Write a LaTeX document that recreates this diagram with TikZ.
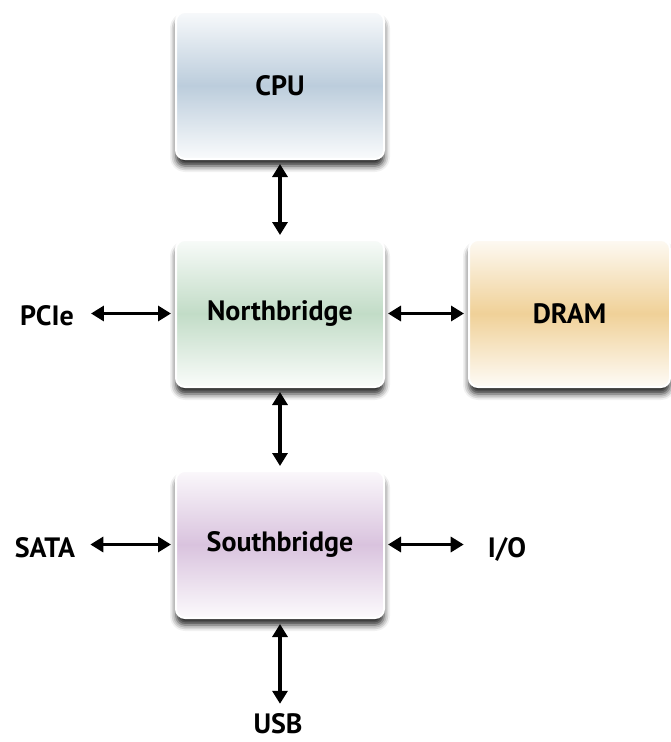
\documentclass[tikz,border=0pt]{standalone}
\usepackage{fontspec}
\setmainfont{PT Sans}
\usetikzlibrary{arrows.meta,shadows.blur}

\definecolor{cpuC}{RGB}{188,205,220}
\definecolor{nbC}{RGB}{194,220,199}
\definecolor{dramC}{RGB}{240,209,152}
\definecolor{sbC}{RGB}{217,195,222}

\tikzset{
  chip/.style={draw=white, line width=2pt, rounded corners=9pt,
    minimum width=208pt, minimum height=147pt, inner sep=0pt,
    font=\bfseries\fontsize{28}{33}\selectfont,
    blur shadow={shadow xshift=0pt, shadow yshift=-7pt,
      shadow blur radius=6pt, shadow opacity=85}},
  tint/.style={top color=#1!12!white, bottom color=#1!8!white, middle color=#1},
  port/.style={inner sep=0pt, font=\bfseries\fontsize{28}{33}\selectfont},
  link/.style={line width=3.2pt, {Triangle[length=13pt,width=15pt]}-{Triangle[length=13pt,width=15pt]}}
}

\begin{document}
\begin{tikzpicture}[x=1pt,y=-1pt]
  \useasboundingbox (0,0) rectangle (670,742);

  % chipset blocks
  \node[chip, tint=cpuC]  (cpu)  at (280,85.5)  {CPU};
  \node[chip, tint=nbC]   (nb)   at (280,313.5) {Northbridge};
  \node[chip, tint=dramC, minimum width=201pt] (dram) at (569.5,313.5) {DRAM};
  \node[chip, tint=sbC]   (sb)   at (280,544.5) {Southbridge};

  % external interfaces
  \node[port, anchor=base] (pcie) at (47,325)  {PCIe};
  \node[port, anchor=base] (sata) at (45,557)  {SATA};
  \node[port, anchor=base] (io)   at (507,557) {I/O};
  \node[port, anchor=base] (usb)  at (278,733) {USB};

  % buses
  \draw[link, shorten <=4pt, shorten >=4pt] (cpu.south) -- (nb.north);
  \draw[link, shorten <=4pt, shorten >=4pt] (nb.south) -- (sb.north);
  \draw[link, shorten <=3pt, shorten >=4pt] (nb.east) -- (dram.west);
  \draw[link, shorten <=17pt, shorten >=4pt] (pcie.east |- nb.west) -- (nb.west);
  \draw[link, shorten <=15pt, shorten >=4pt] (sata.east |- sb.west) -- (sb.west);
  \draw[link, shorten <=3pt, shorten >=24pt] (sb.east) -- (io.west |- sb.east);
  \draw[link, shorten <=5pt, shorten >=9pt] (sb.south) -- (usb.north -| sb.south);
\end{tikzpicture}
\end{document}
